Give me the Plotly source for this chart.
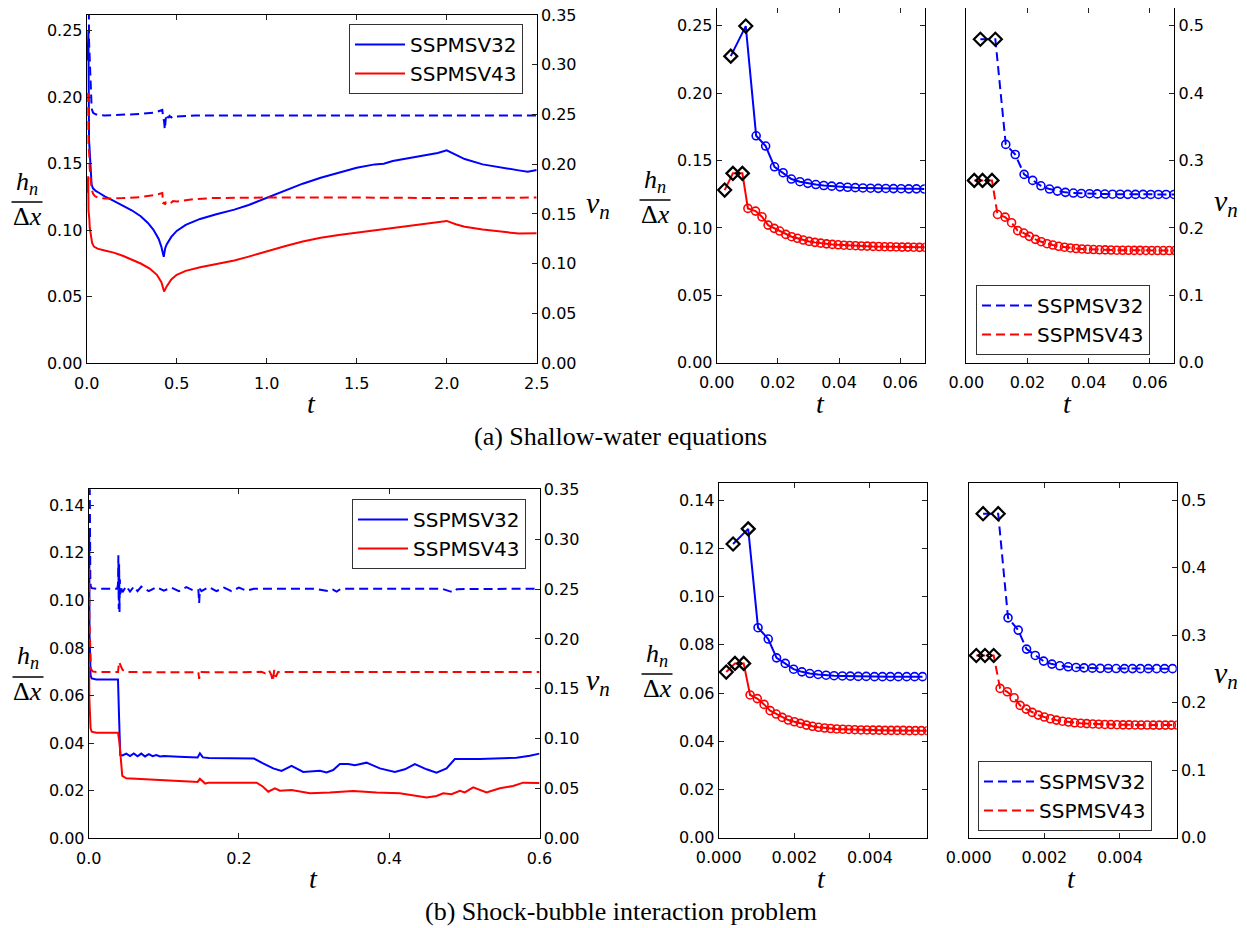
import plotly.graph_objects as go

# ---------------- data: (a) shallow-water, full time range ----------------
SW_T_H32 = [0.0046, 0.0095, 0.0129, 0.0160, 0.0189, 0.0217, 0.0272, 0.035, 0.05, 0.07, 0.10, 0.15, 0.20, 0.25, 0.30, 0.34, 0.37, 0.40, 0.415, 0.428, 0.436, 0.445, 0.47, 0.50, 0.55, 0.63, 0.72, 0.82, 0.90, 1.00, 1.10, 1.20, 1.30, 1.40, 1.50, 1.60, 1.65, 1.70, 1.80, 1.90, 1.95, 2.00, 2.05, 2.10, 2.20, 2.30, 2.40, 2.45, 2.50]
SW_H32 = [0.2275, 0.2498, 0.1684, 0.1608, 0.1454, 0.1410, 0.1343, 0.1315, 0.1295, 0.1280, 0.1255, 0.1220, 0.1185, 0.1150, 0.1105, 0.1055, 0.1005, 0.0935, 0.0875, 0.0800, 0.0865, 0.0895, 0.0950, 0.0995, 0.1040, 0.1085, 0.1120, 0.1155, 0.1190, 0.1245, 0.1300, 0.1350, 0.1395, 0.1435, 0.1470, 0.1495, 0.1500, 0.1520, 0.1545, 0.1570, 0.1580, 0.1600, 0.1570, 0.1535, 0.1495, 0.1470, 0.1450, 0.1440, 0.1453]
SW_T_H43 = [0.0026, 0.0053, 0.0084, 0.0102, 0.0127, 0.0148, 0.0168, 0.0188, 0.0226, 0.030, 0.040, 0.060, 0.10, 0.15, 0.20, 0.25, 0.30, 0.35, 0.39, 0.415, 0.430, 0.445, 0.47, 0.50, 0.55, 0.63, 0.72, 0.82, 0.90, 1.00, 1.10, 1.20, 1.30, 1.40, 1.50, 1.60, 1.70, 1.80, 1.90, 1.95, 2.00, 2.05, 2.10, 2.20, 2.30, 2.40, 2.50]
SW_H43 = [0.1281, 0.1405, 0.1405, 0.1145, 0.1125, 0.1083, 0.1021, 0.0997, 0.0952, 0.0905, 0.0877, 0.0862, 0.0848, 0.0832, 0.0808, 0.0782, 0.0750, 0.0712, 0.0665, 0.0610, 0.0539, 0.0580, 0.0630, 0.0665, 0.0695, 0.0722, 0.0745, 0.0772, 0.0802, 0.0842, 0.0880, 0.0915, 0.0943, 0.0965, 0.0983, 0.1000, 0.1015, 0.1035, 0.1050, 0.1060, 0.1070, 0.1045, 0.1027, 0.1005, 0.0990, 0.0975, 0.0977]
SW_T_NU32 = [0.0046, 0.0095, 0.0129, 0.0160, 0.0189, 0.0217, 0.0244, 0.0272, 0.0298, 0.035, 0.045, 0.060, 0.10, 0.20, 0.30, 0.38, 0.41, 0.42, 0.425, 0.430, 0.434, 0.437, 0.440, 0.445, 0.450, 0.455, 0.460, 0.470, 0.480, 0.50, 0.55, 0.60, 0.80, 1.00, 1.50, 2.00, 2.50]
SW_NU32 = [0.480, 0.480, 0.324, 0.309, 0.2795, 0.2706, 0.2626, 0.2577, 0.2547, 0.2518, 0.2505, 0.2495, 0.2490, 0.2495, 0.2505, 0.2520, 0.2535, 0.2545, 0.2470, 0.2430, 0.2350, 0.2400, 0.2470, 0.2440, 0.2480, 0.2465, 0.2485, 0.2470, 0.2485, 0.2480, 0.2485, 0.2490, 0.2490, 0.2490, 0.2490, 0.2490, 0.2490]
SW_T_NU43 = [0.0026, 0.0053, 0.0084, 0.0102, 0.0127, 0.0148, 0.0168, 0.0188, 0.0206, 0.0226, 0.0245, 0.0264, 0.0283, 0.035, 0.045, 0.060, 0.10, 0.20, 0.30, 0.38, 0.41, 0.42, 0.425, 0.430, 0.435, 0.440, 0.450, 0.460, 0.470, 0.480, 0.50, 0.55, 0.60, 0.70, 1.00, 1.50, 2.00, 2.50]
SW_NU43 = [0.2706, 0.2706, 0.2706, 0.2200, 0.2160, 0.2078, 0.1960, 0.1924, 0.1875, 0.1831, 0.1796, 0.1766, 0.1746, 0.1705, 0.1680, 0.1665, 0.1655, 0.1660, 0.1670, 0.1690, 0.1705, 0.1710, 0.1600, 0.1620, 0.1595, 0.1615, 0.1610, 0.1625, 0.1615, 0.1630, 0.1625, 0.1635, 0.1650, 0.1660, 0.1665, 0.1665, 0.1660, 0.1665]

# ---------------- data: (a) shallow-water, first steps ----------------
SW_ZT32 = [0.0046, 0.0095, 0.0129, 0.0160, 0.0189, 0.0217, 0.0244, 0.0272, 0.0298, 0.0324, 0.0350, 0.0376, 0.0403, 0.0428, 0.0453, 0.0478, 0.0503, 0.0528, 0.0553, 0.0578, 0.0603, 0.0628, 0.0653, 0.0679]
SW_ZH32 = [0.2275, 0.2498, 0.1684, 0.1608, 0.1454, 0.1410, 0.1363, 0.1343, 0.1331, 0.1322, 0.1315, 0.1310, 0.1305, 0.1302, 0.1299, 0.1297, 0.1295, 0.1294, 0.1293, 0.1292, 0.1291, 0.1290, 0.1290, 0.1289]
SW_ZNU32 = [0.480, 0.480, 0.324, 0.309, 0.2795, 0.2706, 0.2626, 0.2577, 0.2547, 0.2528, 0.2518, 0.2512, 0.2508, 0.2505, 0.2503, 0.2501, 0.2500, 0.2499, 0.2498, 0.2498, 0.2497, 0.2497, 0.2497, 0.2497]
SW_ZT43 = [0.0026, 0.0053, 0.0084, 0.0102, 0.0127, 0.0148, 0.0168, 0.0188, 0.0206, 0.0226, 0.0245, 0.0264, 0.0283, 0.0302, 0.0321, 0.0340, 0.0359, 0.0378, 0.0397, 0.0416, 0.0435, 0.0454, 0.0473, 0.0492, 0.0511, 0.0530, 0.0549, 0.0568, 0.0587, 0.0606, 0.0625, 0.0644, 0.0663, 0.0682]
SW_ZH43 = [0.1281, 0.1405, 0.1405, 0.1145, 0.1125, 0.1083, 0.1021, 0.0997, 0.0977, 0.0952, 0.0935, 0.0923, 0.0910, 0.0900, 0.0893, 0.0887, 0.0882, 0.0878, 0.0875, 0.0872, 0.0870, 0.0868, 0.0866, 0.0865, 0.0863, 0.0862, 0.0861, 0.0860, 0.0859, 0.0858, 0.0858, 0.0857, 0.0856, 0.0856]
SW_ZNU43 = [0.2706, 0.2706, 0.2706, 0.2200, 0.2160, 0.2078, 0.1960, 0.1924, 0.1875, 0.1831, 0.1796, 0.1766, 0.1746, 0.1728, 0.1714, 0.1703, 0.1695, 0.1688, 0.1683, 0.1679, 0.1676, 0.1674, 0.1672, 0.1670, 0.1669, 0.1668, 0.1667, 0.1667, 0.1666, 0.1666, 0.1665, 0.1665, 0.1665, 0.1665]
SW_ND32 = 2   # number of initial (diamond) steps
SW_ND43 = 3

# ---------------- data: (b) shock-bubble, full time range ----------------
SB_T_H32 = [0.00039, 0.00078, 0.00104, 0.00131, 0.00153, 0.00176, 0.00199, 0.0025, 0.004, 0.010, 0.020, 0.030, 0.0390, 0.0405, 0.0420, 0.045, 0.050, 0.055, 0.060, 0.065, 0.070, 0.075, 0.080, 0.085, 0.090, 0.095, 0.100, 0.120, 0.145, 0.148, 0.152, 0.160, 0.180, 0.200, 0.220, 0.232, 0.2456, 0.2567, 0.2700, 0.2855, 0.2988, 0.3077, 0.3166, 0.3254, 0.3343, 0.3454, 0.3543, 0.3698, 0.3875, 0.4075, 0.4208, 0.4341, 0.4497, 0.4629, 0.4763, 0.4873, 0.5206, 0.5428, 0.5694, 0.5871, 0.5980, 0.6000]
SB_H32 = [0.1218, 0.1281, 0.0871, 0.0824, 0.0746, 0.0723, 0.0699, 0.0685, 0.0672, 0.0668, 0.0668, 0.0668, 0.0668, 0.0500, 0.0350, 0.0348, 0.0356, 0.0346, 0.0357, 0.0345, 0.0356, 0.0344, 0.0354, 0.0345, 0.0350, 0.0344, 0.0346, 0.0343, 0.0340, 0.0357, 0.0340, 0.0338, 0.0337, 0.0335, 0.0335, 0.0315, 0.0294, 0.0283, 0.0304, 0.0279, 0.0283, 0.0284, 0.0277, 0.0287, 0.0312, 0.0312, 0.0307, 0.0318, 0.0294, 0.0279, 0.0290, 0.0312, 0.0290, 0.0276, 0.0294, 0.0333, 0.0333, 0.0335, 0.0339, 0.0347, 0.0354, 0.0356]
SB_T_H43 = [0.00020, 0.00044, 0.00066, 0.00084, 0.00103, 0.00120, 0.00136, 0.00152, 0.00184, 0.0025, 0.004, 0.010, 0.020, 0.030, 0.0390, 0.0410, 0.0447, 0.050, 0.060, 0.080, 0.100, 0.120, 0.140, 0.145, 0.148, 0.152, 0.155, 0.160, 0.180, 0.200, 0.2235, 0.232, 0.239, 0.2478, 0.2545, 0.2700, 0.2944, 0.3210, 0.3520, 0.3830, 0.4140, 0.4497, 0.4629, 0.4718, 0.4829, 0.4940, 0.5006, 0.5117, 0.5295, 0.5472, 0.5649, 0.5782, 0.5980, 0.6000]
SB_H43 = [0.0687, 0.0723, 0.0723, 0.0592, 0.0577, 0.0553, 0.0527, 0.0513, 0.0488, 0.0462, 0.0448, 0.0444, 0.0444, 0.0444, 0.0444, 0.0400, 0.0262, 0.0252, 0.0250, 0.0246, 0.0244, 0.0241, 0.0238, 0.0237, 0.0250, 0.0240, 0.0230, 0.0234, 0.0234, 0.0233, 0.0234, 0.0217, 0.0196, 0.0210, 0.0200, 0.0203, 0.0189, 0.0192, 0.0199, 0.0192, 0.0189, 0.0172, 0.0178, 0.0189, 0.0185, 0.0200, 0.0193, 0.0214, 0.0193, 0.0210, 0.0220, 0.0234, 0.0231, 0.0232]
SB_T_NU32 = [0.00036, 0.00077, 0.00105, 0.00131, 0.00154, 0.00176, 0.00198, 0.00220, 0.00240, 0.00260, 0.004, 0.010, 0.020, 0.030, 0.0380, 0.0390, 0.0395, 0.0400, 0.0405, 0.0410, 0.0415, 0.0420, 0.0430, 0.045, 0.050, 0.055, 0.060, 0.065, 0.070, 0.080, 0.090, 0.100, 0.110, 0.120, 0.130, 0.140, 0.146, 0.147, 0.148, 0.150, 0.160, 0.170, 0.180, 0.190, 0.200, 0.210, 0.220, 0.250, 0.300, 0.320, 0.325, 0.330, 0.335, 0.340, 0.400, 0.470, 0.480, 0.485, 0.490, 0.550, 0.600]
SB_NU32 = [0.480, 0.480, 0.3257, 0.3075, 0.2794, 0.2700, 0.2616, 0.2572, 0.2547, 0.2532, 0.2510, 0.2505, 0.2505, 0.2505, 0.2505, 0.2550, 0.2840, 0.2300, 0.2750, 0.2270, 0.2600, 0.2450, 0.2520, 0.2470, 0.2530, 0.2475, 0.2525, 0.2480, 0.2525, 0.2480, 0.2520, 0.2485, 0.2515, 0.2480, 0.2520, 0.2485, 0.2490, 0.2360, 0.2505, 0.2480, 0.2520, 0.2480, 0.2515, 0.2480, 0.2515, 0.2485, 0.2505, 0.2505, 0.2505, 0.2480, 0.2495, 0.2475, 0.2500, 0.2505, 0.2505, 0.2505, 0.2480, 0.2470, 0.2500, 0.2505, 0.2505]
SB_T_NU43 = [0.00019, 0.00042, 0.00065, 0.00082, 0.00102, 0.00120, 0.00135, 0.00151, 0.00167, 0.00183, 0.00199, 0.00215, 0.0030, 0.0050, 0.010, 0.020, 0.039, 0.0405, 0.042, 0.045, 0.050, 0.100, 0.146, 0.147, 0.148, 0.200, 0.230, 0.235, 0.240, 0.243, 0.245, 0.247, 0.249, 0.252, 0.260, 0.400, 0.600]
SB_NU43 = [0.2700, 0.2700, 0.2700, 0.2212, 0.2162, 0.2073, 0.1960, 0.1905, 0.1856, 0.1816, 0.1787, 0.1762, 0.1700, 0.1675, 0.1668, 0.1668, 0.1668, 0.1770, 0.1740, 0.1690, 0.1668, 0.1665, 0.1665, 0.1600, 0.1668, 0.1665, 0.1670, 0.1655, 0.1685, 0.1640, 0.1575, 0.1690, 0.1620, 0.1668, 0.1668, 0.1668, 0.1668]

# ---------------- data: (b) shock-bubble, first steps ----------------
SB_ZT32 = [0.00038, 0.00078, 0.00104, 0.00131, 0.00153, 0.00176, 0.00198, 0.00220, 0.00241, 0.00263, 0.00284, 0.00305, 0.00327, 0.00348, 0.00369, 0.00390, 0.00412, 0.00433, 0.00454, 0.00475, 0.00497, 0.00518, 0.00539]
SB_ZH32 = [0.1218, 0.1281, 0.0871, 0.0824, 0.0746, 0.0723, 0.0699, 0.0688, 0.0681, 0.0677, 0.0674, 0.0672, 0.0671, 0.0670, 0.0669, 0.0669, 0.0668, 0.0668, 0.0668, 0.0668, 0.0668, 0.0668, 0.0668]
SB_ZNU32 = [0.480, 0.480, 0.3257, 0.3075, 0.2794, 0.2700, 0.2616, 0.2572, 0.2547, 0.2532, 0.2522, 0.2516, 0.2512, 0.2509, 0.2507, 0.2506, 0.2505, 0.2505, 0.2504, 0.2504, 0.2504, 0.2504, 0.2504]
SB_ZT43 = [0.00020, 0.00043, 0.00066, 0.00083, 0.00102, 0.00120, 0.00136, 0.00152, 0.00168, 0.00184, 0.00200, 0.00216, 0.00232, 0.00248, 0.00264, 0.00280, 0.00296, 0.00312, 0.00328, 0.00344, 0.00360, 0.00376, 0.00392, 0.00408, 0.00424, 0.00440, 0.00456, 0.00472, 0.00488, 0.00504, 0.00520, 0.00536, 0.00552]
SB_ZH43 = [0.0687, 0.0723, 0.0723, 0.0592, 0.0577, 0.0553, 0.0527, 0.0513, 0.0499, 0.0488, 0.0481, 0.0474, 0.0467, 0.0462, 0.0458, 0.0455, 0.0453, 0.0451, 0.0450, 0.0449, 0.0448, 0.0447, 0.0447, 0.0446, 0.0446, 0.0445, 0.0445, 0.0445, 0.0445, 0.0444, 0.0444, 0.0444, 0.0444]
SB_ZNU43 = [0.2700, 0.2700, 0.2700, 0.2212, 0.2162, 0.2073, 0.1960, 0.1905, 0.1856, 0.1816, 0.1787, 0.1762, 0.1742, 0.1726, 0.1713, 0.1703, 0.1696, 0.1690, 0.1685, 0.1681, 0.1678, 0.1676, 0.1674, 0.1672, 0.1671, 0.1670, 0.1669, 0.1669, 0.1668, 0.1668, 0.1668, 0.1668, 0.1668]
SB_ND32 = 2
SB_ND43 = 3

NAMES = ["SSPMSV32", "SSPMSV43"]
BLUE = "#0000ff"
RED = "#ff0000"

# page has an 8px body margin: the figure is sized and positioned to compensate
OFF = 8
W, H = 1247 - OFF, 928 - OFF
def PX(x): return (x - OFF) / W
def PY(y): return 1 - (y - OFF) / H

fig = go.Figure()
DASH = "9px,5px"

# ----- left panels -----
def left_panel(xa, ya, ya2, t32, h32, t43, h43, tn32, nu32, tn43, nu43, leg_h, leg_nu):
    fig.add_trace(go.Scatter(x=t32, y=h32, mode="lines", line=dict(color=BLUE, width=2),
                             name=NAMES[0], xaxis=xa, yaxis=ya, legend=leg_h))
    fig.add_trace(go.Scatter(x=t43, y=h43, mode="lines", line=dict(color=RED, width=2),
                             name=NAMES[1], xaxis=xa, yaxis=ya, legend=leg_h))
    fig.add_trace(go.Scatter(x=tn32, y=nu32, mode="lines", line=dict(color=BLUE, width=2, dash=DASH),
                             name=NAMES[0], xaxis=xa, yaxis=ya2, legend=leg_nu))
    fig.add_trace(go.Scatter(x=tn43, y=nu43, mode="lines", line=dict(color=RED, width=2, dash=DASH),
                             name=NAMES[1], xaxis=xa, yaxis=ya2, legend=leg_nu))

left_panel("x", "y", "y2", SW_T_H32, SW_H32, SW_T_H43, SW_H43, SW_T_NU32, SW_NU32, SW_T_NU43, SW_NU43, "legend", "legend2")
left_panel("x4", "y5", "y6", SB_T_H32, SB_H32, SB_T_H43, SB_H43, SB_T_NU32, SB_NU32, SB_T_NU43, SB_NU43, "legend3", "legend4")

# ----- zoom panels -----
def zoom_series(xa, ya, t, v, nd, color, dash):
    fig.add_trace(go.Scatter(x=t, y=v, mode="lines", line=dict(color=color, width=2, dash=dash),
                             showlegend=False, xaxis=xa, yaxis=ya))
    fig.add_trace(go.Scatter(x=t[nd:], y=v[nd:], mode="markers",
                             marker=dict(symbol="circle-open", size=8, color=color, line=dict(width=1.6)),
                             showlegend=False, xaxis=xa, yaxis=ya))
    fig.add_trace(go.Scatter(x=t[:nd], y=v[:nd], mode="markers",
                             marker=dict(symbol="diamond-open", size=10, color="black", line=dict(width=2.2)),
                             showlegend=False, xaxis=xa, yaxis=ya))

zoom_series("x2", "y3", SW_ZT32, SW_ZH32, SW_ND32, BLUE, "solid")
zoom_series("x2", "y3", SW_ZT43, SW_ZH43, SW_ND43, RED, "solid")
zoom_series("x3", "y4", SW_ZT32, SW_ZNU32, SW_ND32, BLUE, DASH)
zoom_series("x3", "y4", SW_ZT43, SW_ZNU43, SW_ND43, RED, DASH)
zoom_series("x5", "y7", SB_ZT32, SB_ZH32, SB_ND32, BLUE, "solid")
zoom_series("x5", "y7", SB_ZT43, SB_ZH43, SB_ND43, RED, "solid")
zoom_series("x6", "y8", SB_ZT32, SB_ZNU32, SB_ND32, BLUE, DASH)
zoom_series("x6", "y8", SB_ZT43, SB_ZNU43, SB_ND43, RED, DASH)

# ----- axes -----
TICKFONT = dict(family="DejaVu Sans", size=16, color="black")
def axis(**kw):
    d = dict(showgrid=False, zeroline=False, showline=True, linecolor="black", linewidth=1,
             ticks="inside", ticklen=5, tickwidth=1, tickcolor="#222", tickfont=TICKFONT,
             automargin=False, ticklabeloverflow="allow")
    d.update(kw)
    return d

def xd(a, b): return [PX(a), PX(b)]
def yd(top, bot): return [PY(bot), PY(top)]

XS = 5   # x tick label standoff
YL = 0   # left y tick label standoff
YR = 0   # right y tick label standoff
NU_TOP = 0.3502
layout = dict(
    xaxis=axis(domain=xd(86.7, 536.7), range=[0, 2.5], dtick=0.5, tickformat=".1f", anchor="y", mirror="ticks", ticklabelstandoff=XS),
    yaxis=axis(domain=yd(14.7, 363.3), range=[0, 0.262], dtick=0.05, tickformat=".2f", anchor="x", ticklabelstandoff=YL),
    yaxis2=axis(range=[0, NU_TOP], dtick=0.05, tickformat=".2f", overlaying="y", side="right", anchor="x", ticklabelstandoff=YR),
    xaxis2=axis(domain=xd(716.7, 924.7), range=[0, 0.068], dtick=0.02, tickformat=".2f", anchor="y3", mirror="ticks", ticklabelstandoff=XS),
    yaxis3=axis(domain=yd(8.3, 362.7), range=[0, 0.263], dtick=0.05, tickformat=".2f", anchor="x2", mirror="ticks", ticklabelstandoff=YL),
    xaxis3=axis(domain=xd(966.3, 1174.3), range=[0, 0.068], dtick=0.02, tickformat=".2f", anchor="y4", mirror="ticks", ticklabelstandoff=XS),
    yaxis4=axis(domain=yd(8.3, 362.7), range=[0, 0.526], dtick=0.1, tickformat=".1f", anchor="x3", side="right", mirror=True, ticklabelstandoff=YR),
    xaxis4=axis(domain=xd(88.7, 539.5), range=[0, 0.6], dtick=0.2, tickformat=".1f", anchor="y5", mirror="ticks", ticklabelstandoff=XS),
    yaxis5=axis(domain=yd(489.3, 838.3), range=[0, 0.1467], dtick=0.02, tickformat=".2f", anchor="x4", ticklabelstandoff=YL),
    yaxis6=axis(range=[0, NU_TOP], dtick=0.05, tickformat=".2f", overlaying="y5", side="right", anchor="x4", ticklabelstandoff=YR),
    xaxis5=axis(domain=xd(718.7, 926.7), range=[0, 0.0055], dtick=0.002, tickformat=".3f", anchor="y7", mirror="ticks", ticklabelstandoff=XS),
    yaxis7=axis(domain=yd(483.3, 837.7), range=[0, 0.147], dtick=0.02, tickformat=".2f", anchor="x5", mirror="ticks", ticklabelstandoff=YL),
    xaxis6=axis(domain=xd(968.7, 1176.7), range=[0, 0.0055], dtick=0.002, tickformat=".3f", anchor="y8", mirror="ticks", ticklabelstandoff=XS),
    yaxis8=axis(domain=yd(483.3, 837.7), range=[0, 0.525], dtick=0.1, tickformat=".1f", anchor="x6", side="right", mirror=True, ticklabelstandoff=YR),
)

def legend_box(x, y):
    return dict(x=PX(x), y=PY(y), xanchor="left", yanchor="top", bgcolor="white",
                bordercolor="#333", borderwidth=1, font=dict(family="DejaVu Sans", size=20, color="black"),
                itemwidth=50, tracegroupgap=0)

layout.update(
    legend=legend_box(349, 24), legend2=legend_box(976, 285),
    legend3=legend_box(352, 499), legend4=legend_box(978, 761),
)

# ----- labels -----
ann = []
shapes = []
SERIF = "Liberation Serif"
def frac_label(cx, y_num, y_bar, y_den, half):
    ann.append(dict(x=PX(cx), y=PY(y_num), text="<i>h</i><sub><i>n</i></sub>", showarrow=False,
                    xref="paper", yref="paper", xanchor="center", yanchor="middle",
                    font=dict(family=SERIF, size=26, color="black")))
    ann.append(dict(x=PX(cx), y=PY(y_den), text="Δ<i>x</i>", showarrow=False,
                    xref="paper", yref="paper", xanchor="center", yanchor="middle",
                    font=dict(family=SERIF, size=26, color="black")))
    shapes.append(dict(type="line", xref="paper", yref="paper", x0=PX(cx - half), x1=PX(cx + half),
                       y0=PY(y_bar), y1=PY(y_bar), line=dict(color="black", width=1.5)))

frac_label(27, 183, 202, 216, 15.5)
frac_label(655, 181, 200, 214, 15.5)
frac_label(28, 657, 677, 691, 15.5)
frac_label(657, 655, 674, 688, 15.5)

def text(x, y, s, size, family=SERIF):
    ann.append(dict(x=PX(x), y=PY(y), text=s, showarrow=False, xref="paper", yref="paper",
                    xanchor="center", yanchor="middle", font=dict(family=family, size=size, color="black")))

for (x, y) in [(598, 205), (1226, 203), (598, 682), (1226, 675)]:
    text(x, y, "<i>ν</i><sub><i>n</i></sub>", 30)
for (x, y) in [(311.5, 403), (820, 403), (1067, 403), (313, 878), (821.7, 878), (1071.7, 878)]:
    text(x, y, "<i>t</i>", 28)
text(620, 437, "(a) Shallow-water equations", 26)
text(621, 911, "(b) Shock-bubble interaction problem", 26)

layout.update(annotations=ann, shapes=shapes, width=W, height=H, template="none",
              margin=dict(l=0, r=0, t=0, b=0, pad=0), paper_bgcolor="white", plot_bgcolor="white",
              autosize=False)
fig.update_layout(**layout)
fig.write_html("out.html")
